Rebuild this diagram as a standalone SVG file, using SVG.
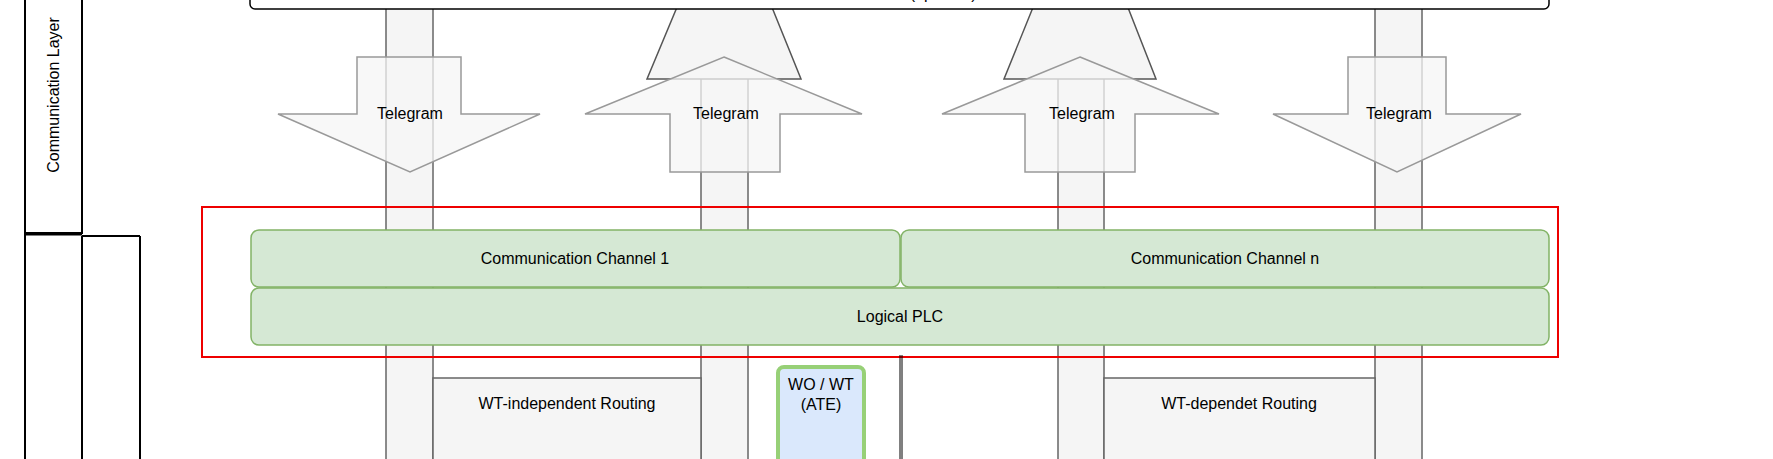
<svg xmlns="http://www.w3.org/2000/svg" width="1773" height="459" viewBox="0 0 1773 459">
<style>
text{font-family:"Liberation Sans",Arial,sans-serif;font-size:16px;fill:#000;text-anchor:middle}
.pipe{fill:#f5f5f5;stroke:#666;stroke-width:1.5}
.trap{fill:#f5f5f5;stroke:#555;stroke-width:1.5}
.arr{fill:#f5f5f5;fill-opacity:0.75;stroke:#999;stroke-width:1.5}
.g{fill:#d5e8d4;stroke:#82b366;stroke-width:1.5}
.lane{fill:none;stroke:#000;stroke-width:2}
</style>
<g id="lanes">
<rect class="lane" x="25" y="-5" width="57" height="238"/>
<line x1="25" y1="234" x2="82" y2="234" stroke="#000" stroke-width="3"/>
<line class="lane" x1="25" y1="234" x2="25" y2="465"/>
<line class="lane" x1="82" y1="236" x2="140" y2="236"/>
<line class="lane" x1="82" y1="236" x2="82" y2="465"/>
<line class="lane" x1="140" y1="236" x2="140" y2="465"/>
<text transform="translate(59,95) rotate(-90)" font-size="15">Communication Layer</text>
</g>
<g id="connectors">
<rect class="pipe" x="386" y="5" width="47" height="470"/>
<rect class="pipe" x="701" y="5" width="47" height="470"/>
<rect class="pipe" x="1058" y="5" width="46" height="470"/>
<rect class="pipe" x="1375" y="5" width="47" height="470"/>
<polygon class="trap" points="680,0 769,0 801,79 647,79"/>
<polygon class="trap" points="1036,0 1125,0 1156,79 1004,79"/>
</g>
<g id="middleware">
<rect x="250" y="-20" width="1299" height="29" rx="5" fill="#fff" stroke="#000" stroke-width="1.5"/>
<text x="900" y="-1">Middleware (optional)</text>
</g>
<g id="telegram1">
<polygon class="arr" points="357,57 461,57 461,114 540,114 410,172 278,114 357,114"/>
<text x="410" y="119">Telegram</text>
</g>
<g id="telegram2">
<polygon class="arr" points="724,57 862,114 780,114 780,172 670,172 670,114 585,114"/>
<text x="726" y="119">Telegram</text>
</g>
<g id="telegram3">
<polygon class="arr" points="1080,57 1219,114 1135,114 1135,172 1025,172 1025,114 942,114"/>
<text x="1082" y="119">Telegram</text>
</g>
<g id="telegram4">
<polygon class="arr" points="1348,57 1446,57 1446,114 1521,114 1397,172 1273,114 1348,114"/>
<text x="1399" y="119">Telegram</text>
</g>
<g id="plcgroup">
<rect x="202" y="207" width="1356" height="150" fill="none" stroke="#e00" stroke-width="2"/>
</g>
<g id="channel1">
<rect class="g" x="251" y="230" width="649" height="57" rx="8"/>
<text x="575" y="264">Communication Channel 1</text>
</g>
<g id="channeln">
<rect class="g" x="901" y="230" width="648" height="57" rx="8"/>
<text x="1225" y="264">Communication Channel n</text>
</g>
<g id="logicalplc">
<rect class="g" x="251" y="288" width="1298" height="57" rx="8"/>
<text x="900" y="322">Logical PLC</text>
</g>
<g id="routing1">
<rect x="433" y="378" width="268" height="90" fill="#f5f5f5" stroke="#666" stroke-width="1.5"/>
<text x="567" y="409">WT-independent Routing</text>
</g>
<g id="routing2">
<rect x="1104" y="378" width="271" height="90" fill="#f5f5f5" stroke="#666" stroke-width="1.5"/>
<text x="1239" y="409">WT-dependet Routing</text>
</g>
<g id="wowt">
<rect x="778" y="367" width="86" height="100" rx="6" fill="#dae8fc" stroke="#97d077" stroke-width="4"/>
<text x="821" y="390">WO / WT</text>
<text x="821" y="410">(ATE)</text>
</g>
<g id="divider">
<line x1="900" y1="355" x2="900" y2="465" stroke="#000" stroke-width="1"/>
<line x1="902" y1="355" x2="902" y2="465" stroke="#000" stroke-width="1"/>
</g>
</svg>
